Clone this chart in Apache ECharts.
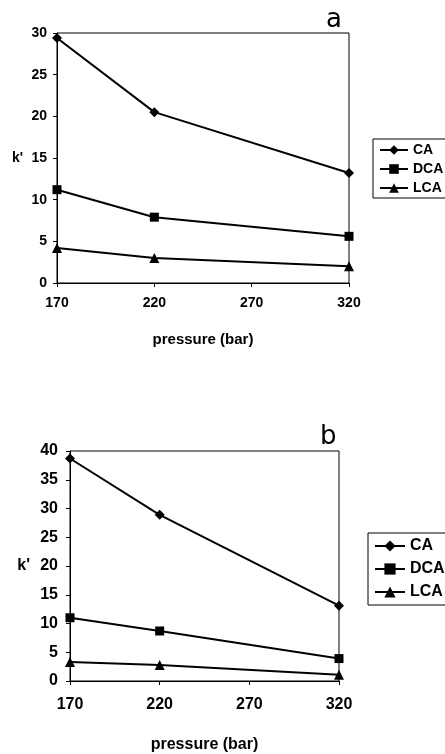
<!DOCTYPE html>
<html>
<head>
<meta charset="utf-8">
<script src="https://cdn.jsdelivr.net/npm/echarts@6/dist/echarts.min.js"></script>
<style>
  html, body { margin: 0; padding: 0; background: #fff; }
  #main { width: 445px; height: 754px; }
</style>
</head>
<body>
<div id="main"></div>
<script>
// pressure (bar)
const pressure = [170, 220, 320]
const xTicks = [170, 220, 270, 320]

// panel a
const caA = [29.4, 20.5, 13.2]
const dcaA = [11.2, 7.9, 5.6]
const lcaA = [4.2, 3.0, 2.0]

// panel b
const caB = [38.7, 28.9, 13.1]
const dcaB = [11.0, 8.7, 3.9]
const lcaB = [3.3, 2.8, 1.1]

const names = ['CA', 'DCA', 'LCA']
const symbols = ['diamond', 'rect', 'triangle']
const symbolSizes = [10, 9, 10]

const font = 'Liberation Sans, Arial, sans-serif'

const pairs = (ys) => pressure.map((x, i) => [x, ys[i]])

const makeX = (gridIndex, size, margin, gap, nameSize) => ({
  type: 'value',
  gridIndex,
  min: 170,
  max: 320,
  name: 'pressure (bar)',
  nameLocation: 'middle',
  nameGap: gap,
  nameTextStyle: { color: '#000', fontWeight: 'bold', fontSize: nameSize, fontFamily: font },
  axisLine: { show: true, lineStyle: { color: '#000', width: 1 } },
  axisTick: { show: true, length: 4, customValues: xTicks, lineStyle: { color: '#000' } },
  axisLabel: { customValues: xTicks, color: '#000', fontWeight: 'bold', fontSize: size, fontFamily: font, margin },
  splitLine: { show: false }
})

const makeY = (gridIndex, max, size, margin, gap) => ({
  type: 'value',
  gridIndex,
  min: 0,
  max,
  interval: 5,
  name: "k'",
  nameLocation: 'middle',
  nameRotate: 0,
  nameGap: gap,
  nameTextStyle: { color: '#000', fontWeight: 'bold', fontSize: size, fontFamily: font },
  axisLine: { show: true, lineStyle: { color: '#000', width: 1 } },
  axisTick: { show: true, length: 4, lineStyle: { color: '#000' } },
  axisLabel: { color: '#000', fontWeight: 'bold', fontSize: size, fontFamily: font, margin },
  splitLine: { show: false }
})

const makeSeries = (idx, axis, values) => ({
  name: names[idx],
  type: 'line',
  xAxisIndex: axis,
  yAxisIndex: axis,
  data: pairs(values),
  symbol: symbols[idx],
  symbolSize: symbolSizes[idx],
  color: '#000',
  itemStyle: { color: '#000' },
  lineStyle: { color: '#000', width: 2 },
  animation: false
})

const seriesA = [caA, dcaA, lcaA].map((v, i) => makeSeries(i, 0, v))
const seriesB = [caB, dcaB, lcaB].map((v, i) => makeSeries(i, 1, v))

const chart = echarts.init(document.getElementById('main'))
chart.setOption({
  backgroundColor: '#fff',
  animation: false,
  title: [
    { text: 'a', left: 321, top: 2, textStyle: { fontSize: 26, fontWeight: 'normal', color: '#000', fontFamily: 'DejaVu Sans' } },
    { text: 'b', left: 315, top: 419, textStyle: { fontSize: 26, fontWeight: 'normal', color: '#000', fontFamily: 'DejaVu Sans' } }
  ],
  grid: [
    { left: 57, right: 96, top: 33, bottom: 471, show: true, borderColor: '#000', borderWidth: 1 },
    { left: 70, right: 106, top: 451, bottom: 63, show: true, borderColor: '#000', borderWidth: 1 }
  ],
  xAxis: [makeX(0, 14, 13, 49, 15), makeX(1, 16, 16, 56, 16)],
  yAxis: [makeY(0, 30, 14, 10, 34), makeY(1, 40, 16, 12, 40)],
  legend: [
    {
      data: names, orient: 'vertical', left: 373, top: 139,
      borderColor: '#000', borderWidth: 1, padding: [4, 12, 3, 6],
      itemWidth: 28, itemHeight: 12, itemGap: 5,
      textStyle: { color: '#000', fontWeight: 'bold', fontSize: 14, fontFamily: font }
    },
    {
      data: names, orient: 'vertical', left: 368, top: 533,
      borderColor: '#000', borderWidth: 1, padding: [5, 12, 5, 6],
      itemWidth: 30, itemHeight: 14, itemGap: 7,
      textStyle: { color: '#000', fontWeight: 'bold', fontSize: 16, fontFamily: font }
    }
  ],
  series: seriesA.concat(seriesB)
})
</script>
</body>
</html>
